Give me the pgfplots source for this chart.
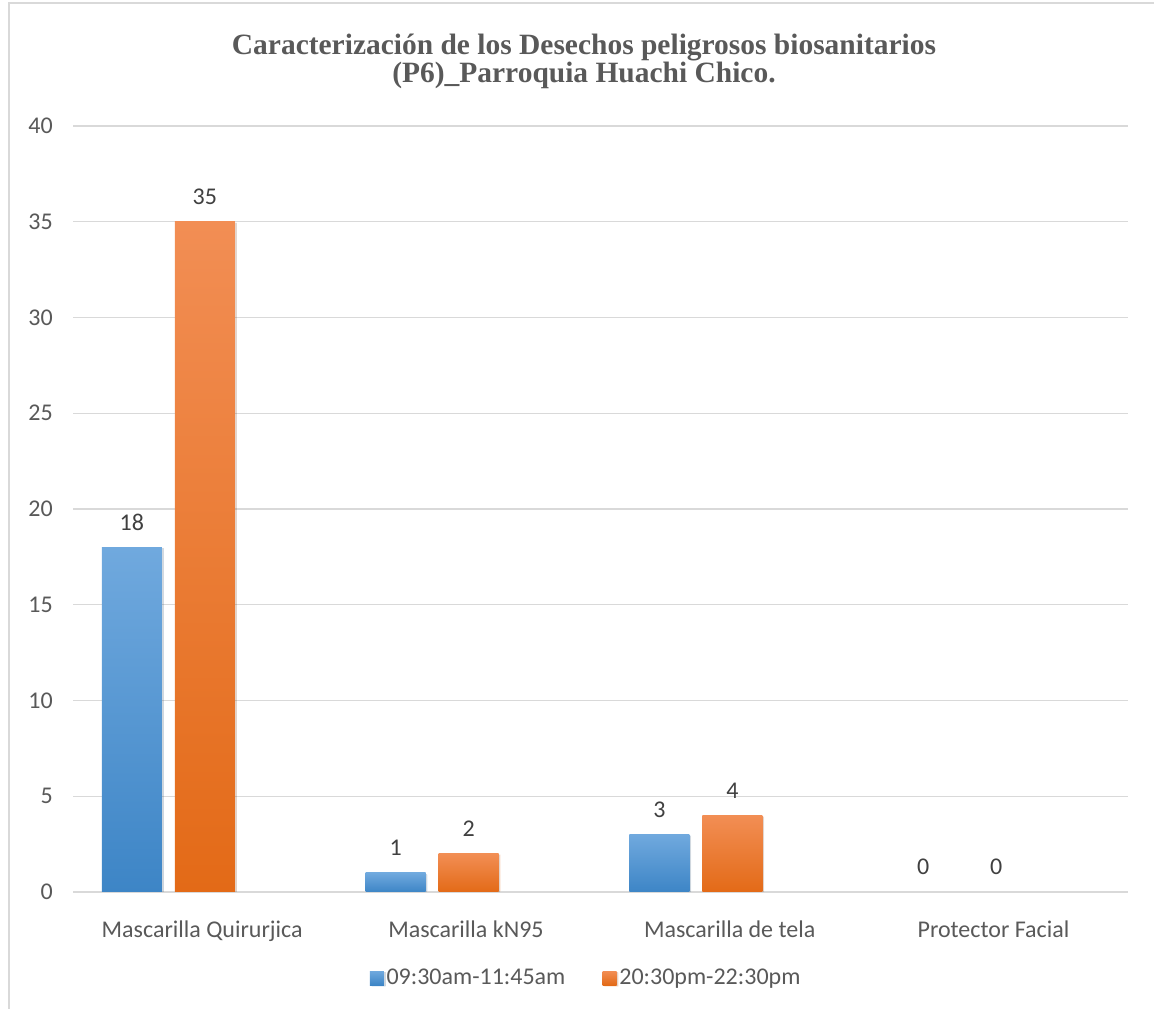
\documentclass[border=0pt]{standalone}
\usepackage{fontspec}
\setmainfont{Carlito}
\newfontfamily\titlefont{Liberation Serif}
\usepackage{pgfplots}
\pgfplotsset{compat=1.18}
\definecolor{txt}{HTML}{595959}
\definecolor{lbl}{HTML}{404040}
\definecolor{gridc}{HTML}{D9D9D9}
\definecolor{btop}{HTML}{70A9DE}
\definecolor{bbot}{HTML}{3D85C6}
\definecolor{otop}{HTML}{F28E54}
\definecolor{obot}{HTML}{E36A17}
\begin{document}
\begin{tikzpicture}
\path[use as bounding box] (0,0) rectangle (865.5pt,756.75pt);
\draw[gridc, line width=1.1pt] (6.75pt,0) -- (6.75pt,754.5pt) -- (865.5pt,754.5pt);
\node[anchor=base, text=txt, font=\titlefont\bfseries\fontsize{22.1}{24}\selectfont, inner sep=0pt, text depth=0pt] at (438pt,715.9pt) {Caracterización de los Desechos peligrosos biosanitarios};
\node[anchor=base, text=txt, font=\titlefont\bfseries\fontsize{22.1}{24}\selectfont, inner sep=0pt, text height=14pt] at (438pt,694.9pt) {(P6)\_Parroquia Huachi Chico.};
\begin{axis}[
 at={(54.75pt,87.75pt)}, anchor=south west,
 scale only axis, width=791.25pt, height=574.5pt,
 xmin=-0.5, xmax=3.5, ymin=0, ymax=40,
 ytick={0,5,...,40},
 xtick={0,1,2,3},
 xticklabels={Mascarilla Quirurjica, Mascarilla kN95, Mascarilla de tela, Protector Facial},
 axis line style={draw=none},
 tick style={draw=none},
 ymajorgrids, major grid style={draw=gridc, line width=1.1pt},
 /pgf/number format/assume math mode=true,
 tick label style={font=\fontsize{18}{21.6}\selectfont, text=txt},
 yticklabel style={anchor=east, inner sep=0pt, xshift=-15pt},
 xticklabel style={anchor=base, inner sep=0pt, yshift=-30pt, xshift=-2pt},
 ybar, bar width=45pt,
 nodes near coords,
 every node near coord/.append style={anchor=base, yshift=12.75pt, inner sep=0pt, text=lbl, font=\fontsize{18}{21.6}\selectfont},
 legend style={draw=none, fill=none, at={(0.4867,-0.1123)}, anchor=center, legend columns=2, font=\fontsize{18}{21.6}\selectfont, text=txt, /tikz/every even column/.append style={column sep=26pt}, inner sep=0pt, nodes={inner sep=2pt}},
 shadowbar/.style={preaction={fill=black, opacity=0.12, transform canvas={shift={(1.3pt,-0.9pt)}}}},
 bluebar/.style={bar shift=-54.75pt, draw=none, shadowbar, top color=btop, bottom color=bbot,
  legend image code/.code={\path[top color=btop,bottom color=bbot] (0pt,-5.25pt) rectangle (10.5pt,5.25pt);}},
 orangebar/.style={bar shift=0pt, draw=none, shadowbar, top color=otop, bottom color=obot,
  legend image code/.code={\path[top color=otop,bottom color=obot] (0pt,-5.25pt) rectangle (10.5pt,5.25pt);}},
]
\addplot[bluebar] coordinates {(0,18)};
\addlegendentry{09:30am-11:45am}
\addplot[orangebar] coordinates {(0,35)};
\addlegendentry{20:30pm-22:30pm}
\addplot[bluebar, forget plot] coordinates {(1,1)};
\addplot[orangebar, forget plot] coordinates {(1,2)};
\addplot[bluebar, forget plot] coordinates {(2,3)};
\addplot[orangebar, forget plot] coordinates {(2,4)};
\addplot[forget plot, bar shift=-54.75pt, draw=none, fill=none] coordinates {(3,0)};
\addplot[forget plot, bar shift=0pt, draw=none, fill=none] coordinates {(3,0)};
\end{axis}
\end{tikzpicture}
\end{document}
